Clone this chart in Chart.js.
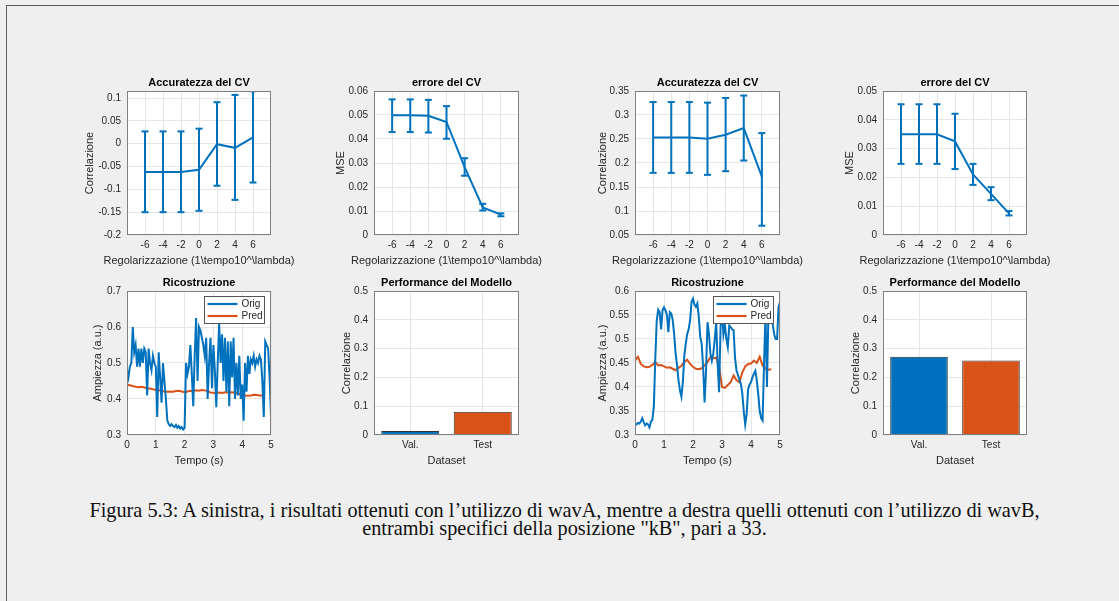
<!DOCTYPE html>
<html>
<head>
<meta charset="utf-8">
<script src="https://cdn.jsdelivr.net/npm/chart.js@4.4.1/dist/chart.umd.min.js"></script>
<style>
  html, body { margin: 0; padding: 0; background: #efefef; width: 1119px; height: 601px; overflow: hidden; }
  .frame { position: absolute; left: 6px; top: 5px; width: 1300px; height: 800px; border-top: 1px solid #5c5c5c; border-left: 1px solid #5c5c5c; }
  canvas { position: absolute; }
  .caption { position: absolute; left: 64px; top: 501px; width: 1001px; text-align: center; font-family: "Liberation Serif", "Times New Roman", serif; font-size: 20.3px; line-height: 18.3px; color: #111; }
</style>
</head>
<body>
<div class="frame"></div>
<div class="caption">Figura 5.3: A sinistra, i risultati ottenuti con l’utilizzo di wavA, mentre a destra quelli ottenuti con l’utilizzo di wavB,<br>entrambi specifici della posizione "kB", pari a 33.</div>
<script>
const palette = {
  blue: "#0072BD",
  orange: "#D95319",
  grid: "#e6e6e6",
  box: "#808080",
  text: "#262626",
  edge: "#333333"
};

// regularisation exponents (x axis of the CV plots)
const lambdas = [-6, -4, -2, 0, 2, 4, 6];
const lambdaTicks = [-6, -4, -2, 0, 2, 4, 6];

// wavA - CV accuracy
const accAMean = [-0.062, -0.062, -0.062, -0.057, -0.001, -0.009, 0.014];
const accALow = [-0.150, -0.150, -0.150, -0.147, -0.092, -0.123, -0.085];
const accAHigh = [0.027, 0.027, 0.027, 0.033, 0.091, 0.107, 0.115];
const accATicks = [-0.2, -0.15, -0.1, -0.05, 0, 0.05, 0.1];

// wavA - CV error
const mseAMean = [0.0499, 0.0499, 0.0497, 0.0471, 0.0283, 0.0115, 0.0085];
const mseALow = [0.0429, 0.0429, 0.0427, 0.0401, 0.0247, 0.0102, 0.0078];
const mseAHigh = [0.0565, 0.0565, 0.0563, 0.0537, 0.0320, 0.0130, 0.0090];
const mseATicks = [0, 0.01, 0.02, 0.03, 0.04, 0.05, 0.06];

// wavB - CV accuracy
const accBMean = [0.2533, 0.2533, 0.2530, 0.2505, 0.2590, 0.2727, 0.1718];
const accBLow = [0.1795, 0.1795, 0.1795, 0.1753, 0.1829, 0.2052, 0.0694];
const accBHigh = [0.3270, 0.3270, 0.3270, 0.3257, 0.3354, 0.3405, 0.2623];
const accBTicks = [0.05, 0.1, 0.15, 0.2, 0.25, 0.3, 0.35];

// wavB - CV error
const mseBMean = [0.0350, 0.0350, 0.0350, 0.0325, 0.0210, 0.0143, 0.0075];
const mseBLow = [0.0247, 0.0247, 0.0247, 0.0229, 0.0174, 0.0121, 0.0068];
const mseBHigh = [0.0454, 0.0454, 0.0454, 0.0421, 0.0247, 0.0166, 0.0083];
const mseBTicks = [0, 0.01, 0.02, 0.03, 0.04, 0.05];

// reconstructions (sampled every 0.05 s for Orig, 0.1 s for Pred)
const origStep = 0.05;
const predStep = 0.1;
const timeTicks = [0, 1, 2, 3, 4, 5];

const origA = [
  0.48, 0.46, 0.49, 0.50, 0.60, 0.53, 0.55, 0.49, 0.54, 0.49,
  0.54, 0.50, 0.54, 0.53, 0.41, 0.54, 0.50, 0.48, 0.52, 0.50,
  0.49, 0.35, 0.53, 0.46, 0.39, 0.50, 0.45, 0.40, 0.34, 0.33,
  0.325, 0.33, 0.325, 0.322, 0.328, 0.32, 0.325, 0.318, 0.322, 0.315,
  0.32, 0.50, 0.47, 0.49, 0.55, 0.47, 0.38, 0.52, 0.625, 0.45,
  0.60, 0.59, 0.57, 0.55, 0.52, 0.57, 0.40, 0.50, 0.57, 0.43,
  0.55, 0.48, 0.377, 0.50, 0.61, 0.50, 0.58, 0.45, 0.57, 0.42,
  0.56, 0.38, 0.56, 0.46, 0.57, 0.40, 0.50, 0.41, 0.52, 0.40,
  0.44, 0.34, 0.50, 0.42, 0.52, 0.47, 0.51, 0.50, 0.52, 0.49,
  0.51, 0.50, 0.52, 0.51, 0.45, 0.35, 0.56, 0.55, 0.54, 0.46,
  0.355
];
const predA = [
  0.440, 0.438, 0.436, 0.434, 0.433, 0.434, 0.432, 0.430, 0.429, 0.427,
  0.425, 0.424, 0.423, 0.421, 0.420, 0.421, 0.420, 0.422, 0.423, 0.421,
  0.419, 0.421, 0.423, 0.422, 0.424, 0.423, 0.425, 0.424, 0.422, 0.418,
  0.417, 0.416, 0.418, 0.417, 0.419, 0.418, 0.419, 0.418, 0.416, 0.414,
  0.412, 0.410, 0.409, 0.410, 0.412, 0.411, 0.410, 0.410
];
const origB = [
  0.322, 0.322, 0.325, 0.324, 0.328, 0.335, 0.327, 0.320, 0.324, 0.322,
  0.316, 0.328, 0.332, 0.360, 0.460, 0.539, 0.561, 0.556, 0.520, 0.560,
  0.566, 0.560, 0.550, 0.514, 0.556, 0.553, 0.540, 0.510, 0.470, 0.445,
  0.414, 0.393, 0.380, 0.410, 0.465, 0.490, 0.510, 0.520, 0.539, 0.577,
  0.584, 0.572, 0.567, 0.574, 0.546, 0.504, 0.490, 0.440, 0.368, 0.434,
  0.535, 0.510, 0.470, 0.455, 0.470, 0.500, 0.535, 0.448, 0.389, 0.525,
  0.553, 0.510, 0.530, 0.500, 0.483, 0.528, 0.525, 0.520, 0.518, 0.460,
  0.435, 0.425, 0.415, 0.407, 0.386, 0.350, 0.322, 0.344, 0.395, 0.405,
  0.410, 0.420, 0.428, 0.434, 0.414, 0.385, 0.350, 0.335, 0.330, 0.450,
  0.553, 0.400, 0.550, 0.560, 0.555, 0.530, 0.510, 0.500, 0.500, 0.567,
  0.577
];
const predB = [
  0.455, 0.463, 0.448, 0.443, 0.441, 0.442, 0.446, 0.452, 0.445, 0.446,
  0.443, 0.440, 0.441, 0.438, 0.435, 0.440, 0.444, 0.452, 0.457, 0.448,
  0.442, 0.438, 0.437, 0.439, 0.445, 0.452, 0.462, 0.460, 0.461, 0.443,
  0.400, 0.398, 0.404, 0.410, 0.424, 0.414, 0.410, 0.430, 0.443, 0.448,
  0.449, 0.455, 0.450, 0.463, 0.445, 0.438, 0.436, 0.437
];
const ampATicks = [0.3, 0.4, 0.5, 0.6, 0.7];
const ampBTicks = [0.3, 0.35, 0.4, 0.45, 0.5, 0.55, 0.6];

// model performance
const datasets = ["Val.", "Test"];
const perfA = [0.0139, 0.0810];
const perfB = [0.2716, 0.2587];
const perfTicks = [0, 0.1, 0.2, 0.3, 0.4, 0.5];

// page layout of the eight plot areas
const frame = {
  colLeft: [127, 374, 635, 883],
  colWidth: [144, 145, 145, 144],
  rowTop: [91, 291],
  height: 144,
  yAxisWidth: 60,
  xAxisHeight: 36,
  titleHeight: 20,
  padRight: 32
};

const fontFamily = "'Liberation Sans', Arial, Helvetica, sans-serif";
Chart.defaults.font.family = fontFamily;
Chart.defaults.color = palette.text;
Chart.defaults.animation = false;

const fmt = (v) => String(parseFloat(Number(v).toFixed(4)));

const matlabBox = {
  id: "matlabBox",
  beforeDraw(chart) {
    const { ctx, chartArea: a } = chart;
    ctx.save();
    ctx.fillStyle = "#ffffff";
    ctx.fillRect(a.left, a.top, a.right - a.left, a.bottom - a.top);
    ctx.restore();
  },
  afterDraw(chart) {
    const { ctx, chartArea: a } = chart;
    ctx.save();
    ctx.strokeStyle = palette.box;
    ctx.lineWidth = 1;
    ctx.strokeRect(Math.round(a.left) + 0.5, Math.round(a.top) + 0.5,
      Math.round(a.right - a.left) - 1, Math.round(a.bottom - a.top) - 1);
    ctx.restore();
  }
};

// title and x label centred on the axes, not squeezed to their width
const axesText = {
  id: "axesText",
  afterDraw(chart, args, opts) {
    const { ctx, chartArea: a } = chart;
    const cx = (a.left + a.right) / 2;
    ctx.save();
    ctx.textAlign = "center";
    ctx.textBaseline = "middle";
    ctx.fillStyle = "#000";
    ctx.font = "bold 11px " + fontFamily;
    ctx.fillText(opts.title, cx, a.top - 7.6);
    ctx.fillStyle = palette.text;
    ctx.font = "11px " + fontFamily;
    ctx.fillText(opts.xLabel, cx, a.bottom + 25.7);
    ctx.restore();
  }
};

// MATLAB-like legend box in the top right corner of the axes
const insetLegend = {
  id: "insetLegend",
  afterDraw(chart, args, opts) {
    if (!opts.show) return;
    const { ctx, chartArea: a } = chart;
    const w = 60, h = 27;
    const x = Math.round(a.right - 7 - w) + 0.5;
    const y = Math.round(a.top + 5) + 0.5;
    ctx.save();
    ctx.fillStyle = "#ffffff";
    ctx.fillRect(x, y, w, h);
    ctx.strokeStyle = "#555555";
    ctx.lineWidth = 1;
    ctx.strokeRect(x, y, w, h);
    ctx.font = "10px " + fontFamily;
    ctx.textBaseline = "middle";
    ctx.fillStyle = palette.text;
    chart.data.datasets.forEach((ds, i) => {
      const ly = y + 7.5 + i * 12;
      ctx.strokeStyle = ds.borderColor;
      ctx.lineWidth = 2.2;
      ctx.beginPath();
      ctx.moveTo(x + 3, ly);
      ctx.lineTo(x + 33, ly);
      ctx.stroke();
      ctx.fillText(ds.label, x + 37, ly);
    });
    ctx.restore();
  }
};

function makeCanvas(row, col) {
  const c = document.createElement("canvas");
  const w = frame.yAxisWidth + frame.colWidth[col] + frame.padRight;
  const h = frame.titleHeight + frame.height + frame.xAxisHeight;
  c.width = w;
  c.height = h;
  c.style.width = w + "px";
  c.style.height = h + "px";
  c.style.left = (frame.colLeft[col] - frame.yAxisWidth) + "px";
  c.style.top = (frame.rowTop[row] - frame.titleHeight) + "px";
  document.body.appendChild(c);
  return c;
}

function yScale(min, max, ticks, title, titlePad) {
  return {
    type: "linear",
    min,
    max,
    afterFit: (s) => { s.width = frame.yAxisWidth; },
    afterBuildTicks: (s) => { s.ticks = ticks.map((v) => ({ value: v })); },
    grid: { color: palette.grid, drawTicks: false },
    border: { display: false },
    ticks: { padding: 6, font: { size: 10 }, callback: (v) => fmt(v) },
    title: { display: true, text: title, font: { size: 11 }, padding: { top: titlePad, bottom: 0 } }
  };
}

function xScale(base) {
  return Object.assign({
    afterFit: (s) => { s.height = frame.xAxisHeight; },
    grid: { color: palette.grid, drawTicks: false },
    border: { display: false },
    ticks: { padding: 4, font: { size: 10 }, maxRotation: 0, autoSkip: false }
  }, base);
}

function plotOptions(title, xLabel, scales, legend) {
  return {
    responsive: false,
    animation: false,
    layout: { padding: { top: frame.titleHeight, right: frame.padRight } },
    plugins: {
      legend: { display: false },
      tooltip: { enabled: false },
      axesText: { title, xLabel },
      insetLegend: { show: !!legend }
    },
    scales
  };
}

function renderErrorPlot(row, col, spec) {
  const line = lambdas.map((l, i) => ({ x: l, y: spec.mean[i] }));
  const stems = [];
  const caps = [];
  lambdas.forEach((l, i) => {
    stems.push({ x: l, y: spec.low[i] }, { x: l, y: spec.high[i] }, { x: l, y: null });
    caps.push({ x: l, y: spec.low[i] }, { x: l, y: spec.high[i] });
  });

  new Chart(makeCanvas(row, col), {
    type: "line",
    data: {
      datasets: [
        { data: line, borderColor: palette.blue, borderWidth: 2, pointRadius: 0, tension: 0 },
        { data: stems, borderColor: palette.blue, borderWidth: 2, pointRadius: 0, spanGaps: false },
        {
          type: "scatter", data: caps, showLine: false, pointStyle: "line",
          pointRadius: 3.5, pointBorderWidth: 2, borderColor: palette.blue, backgroundColor: palette.blue
        }
      ]
    },
    options: plotOptions(spec.title, "Regolarizzazione (1\\tempo10^\\lambda)", {
      x: xScale({
        type: "linear", min: -8, max: 8,
        afterBuildTicks: (s) => { s.ticks = lambdaTicks.map((v) => ({ value: v })); }
      }),
      y: yScale(spec.min, spec.max, spec.ticks, spec.yTitle, spec.titlePad)
    }),
    plugins: [matlabBox, axesText, insetLegend]
  });
}

function renderReconstruction(row, col, orig, pred, ticks, min, max, titlePad) {
  new Chart(makeCanvas(row, col), {
    type: "line",
    data: {
      datasets: [
        {
          label: "Orig",
          data: orig.map((v, i) => ({ x: i * origStep, y: v })),
          borderColor: palette.blue, borderWidth: 2, pointRadius: 0, tension: 0
        },
        {
          label: "Pred",
          data: pred.map((v, i) => ({ x: i * predStep, y: v })),
          borderColor: palette.orange, borderWidth: 2, pointRadius: 0, tension: 0
        }
      ]
    },
    options: plotOptions("Ricostruzione", "Tempo (s)", {
      x: xScale({
        type: "linear", min: 0, max: 5,
        afterBuildTicks: (s) => { s.ticks = timeTicks.map((v) => ({ value: v })); }
      }),
      y: yScale(min, max, ticks, "Ampiezza (a.u.)", titlePad)
    }, true),
    plugins: [matlabBox, axesText, insetLegend]
  });
}

function renderPerformance(row, col, values, titlePad) {
  new Chart(makeCanvas(row, col), {
    type: "bar",
    data: {
      labels: datasets,
      datasets: [
        {
          data: values,
          backgroundColor: [palette.blue, palette.orange],
          borderColor: palette.edge,
          borderWidth: 1,
          barPercentage: 0.8,
          categoryPercentage: 1
        }
      ]
    },
    options: plotOptions("Performance del Modello", "Dataset", {
      x: xScale({ type: "category", offset: true, grid: { color: palette.grid, drawTicks: false, offset: false } }),
      y: yScale(0, 0.5, perfTicks, "Correlazione", titlePad)
    }),
    plugins: [matlabBox, axesText, insetLegend]
  });
}

renderErrorPlot(0, 0, { title: "Accuratezza del CV", yTitle: "Correlazione", mean: accAMean, low: accALow, high: accAHigh, ticks: accATicks, min: -0.2, max: 0.1156, titlePad: 16.4 });
renderErrorPlot(0, 1, { title: "errore del CV", yTitle: "MSE", mean: mseAMean, low: mseALow, high: mseAHigh, ticks: mseATicks, min: 0, max: 0.06, titlePad: 20 });
renderErrorPlot(0, 2, { title: "Accuratezza del CV", yTitle: "Correlazione", mean: accBMean, low: accBLow, high: accBHigh, ticks: accBTicks, min: 0.05, max: 0.35, titlePad: 21 });
renderErrorPlot(0, 3, { title: "errore del CV", yTitle: "MSE", mean: mseBMean, low: mseBLow, high: mseBHigh, ticks: mseBTicks, min: 0, max: 0.05, titlePad: 20.4 });

renderReconstruction(1, 0, origA, predA, ampATicks, 0.3, 0.7, 24.7);
renderPerformance(1, 1, perfA, 26.7);
renderReconstruction(1, 2, origB, predB, ampBTicks, 0.3, 0.6, 21);
renderPerformance(1, 3, perfB, 26.4);
</script>
</body>
</html>
